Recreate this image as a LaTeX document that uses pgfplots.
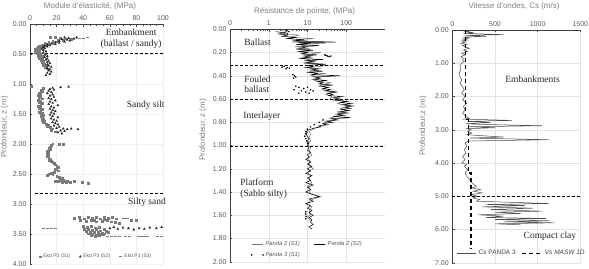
\documentclass[border=0pt]{standalone}
\usepackage{pgfplots}
\pgfplotsset{compat=1.18}
\usepackage{fontspec}
\setmainfont{Liberation Sans}
\newfontfamily\serifface{Liberation Serif}

\definecolor{tickgray}{HTML}{5A5A5A}
\definecolor{titlegray}{HTML}{808080}
\definecolor{gridgray}{HTML}{E2E2E2}
\definecolor{ptgray}{HTML}{7A7A7A}

\tikzset{
  note/.style={font=\serifface\fontsize{9.5}{10.5}\selectfont, text=black!85},
}
\pgfplotsset{
  panel/.style={
    scale only axis,
    clip=false,
    y dir=reverse,
    axis x line*=top,
    axis y line*=left,
    axis line style={black!75, line width=0.5pt},
    tick style={black!70, line width=0.4pt},
    major tick length=2.2pt,
    minor tick length=1.3pt,
    tick label style={font=\fontsize{7}{8}\selectfont, text=tickgray},
    /pgf/number format/assume math mode=true,
    yticklabel style={/pgf/number format/.cd, fixed, fixed zerofill, precision=2},
    grid style={gridgray, line width=0.4pt},
    legend cell align=left,
  },
  zone/.style={black, dashed, line width=0.8pt, dash pattern=on 3pt off 2pt},
}

\begin{document}
\begin{tikzpicture}
\useasboundingbox (0,0) rectangle (589pt,268pt);

% ---------------- Module d'elasticite ----------------
\begin{axis}[panel,
  at={(30pt,3.7pt)}, anchor=south west,
  width=133pt, height=240pt,
  xmin=0, xmax=100, ymin=0, ymax=4,
  xtick={0,20,40,60,80,100},
  ytick={0,0.5,1,1.5,2,2.5,3,3.5,4},
  minor x tick num=3, minor y tick num=4,
  xticklabel style={/pgf/number format/.cd, fixed, precision=0},
  grid=major, grid style={black!6},
  legend style={at={(0.5,0.032)}, anchor=center, draw=none, fill=none,
    font=\fontsize{5}{6}\selectfont, text=tickgray, legend columns=3,
    /tikz/every even column/.append style={column sep=7pt}},
  legend image code/.code={\draw[#1] plot coordinates {(0.15cm,0cm)};},
]
\addplot[only marks, mark=square*, mark size=0.9pt, color=ptgray] coordinates {
(15,0.21)(19,0.22)(23,0.23)(27,0.24)(31,0.25)(21,0.26)(25,0.27)(17,0.28)(20,0.29)(14,0.30)
(17,0.31)(11,0.32)(13,0.33)(9,0.34)(11,0.35)(7,0.36)(9,0.37)(6,0.38)(8,0.39)(5,0.40)
(7,0.41)(4,0.42)(6,0.43)(5,0.44)(7,0.45)(4,0.46)(6,0.47)(5,0.48)(8,0.49)(6,0.50)
(7,0.52)(9,0.53)(6,0.54)(8,0.56)(7,0.57)(9,0.58)(8,0.60)(10,0.62)(9,0.64)(11,0.66)
(10,0.68)(12,0.70)(11,0.72)(13,0.74)
(1,1.03)(10,1.07)(8,1.10)(9,1.12)(7,1.14)(8,1.16)(6,1.18)(8,1.20)(7,1.22)(9,1.24)
(6,1.26)(8,1.28)(7,1.30)(9,1.32)(8,1.34)(6,1.36)(8,1.38)(7,1.40)(9,1.42)(8,1.44)
(7,1.46)(9,1.48)(8,1.50)(10,1.52)(8,1.54)(9,1.56)(10,1.58)(9,1.60)(11,1.62)(10,1.64)
(12,1.66)(14,1.68)(13,1.70)(15,1.72)(17,1.74)(16,1.77)(19,1.79)
(17,1.99)(22,2.00)(25,2.00)(16,2.02)(15,2.04)(14,2.06)(15,2.08)(14,2.10)(13,2.12)(14,2.14)
(13,2.16)(14,2.18)(13,2.20)(14,2.22)(15,2.24)(14,2.26)(16,2.28)(17,2.30)(18,2.32)(19,2.34)
(20,2.36)(21,2.38)(20,2.40)(19,2.42)(21,2.44)(18,2.46)(16,2.48)(14,2.50)(13,2.52)(17,2.50)
(20,2.53)(22,2.55)(24,2.57)(25,2.59)(23,2.60)(26,2.61)(28,2.62)(24,2.63)(27,2.64)(30,2.63)
(33,2.62)(39,2.63)(44,2.65)(21,2.62)(19,2.61)
(33,3.23)(37,3.22)(41,3.24)(44,3.21)(47,3.23)(50,3.22)(53,3.24)(56,3.22)(59,3.23)(62,3.22)
(65,3.24)(38,3.27)(42,3.28)(46,3.27)(50,3.29)(54,3.28)(58,3.27)(61,3.29)(64,3.30)(67,3.31)
(48,3.26)(56,3.25)(76,3.26)(80,3.26)
(40,3.36)(43,3.38)(46,3.37)(49,3.39)(52,3.38)(41,3.41)(44,3.42)(47,3.43)(50,3.41)(53,3.44)
(56,3.42)(42,3.45)(45,3.46)(48,3.47)(51,3.46)(54,3.48)(57,3.45)(44,3.49)(47,3.50)(50,3.51)
(53,3.50)(56,3.49)(59,3.47)(46,3.52)(49,3.53)(52,3.52)
};
\addlegendentry{Ekd P3 (S1)}
\addplot[only marks, mark=triangle*, mark size=1.1pt, color=black!85] coordinates {
(26,0.22)(29,0.23)(33,0.24)(35,0.22)(24,0.25)(28,0.26)(30,0.27)(22,0.28)(26,0.29)(19,0.30)
(22,0.31)(16,0.32)(19,0.33)(13,0.34)(15,0.35)(11,0.36)(13,0.37)(10,0.38)(11,0.40)(9,0.41)
(10,0.43)(12,0.45)(10,0.47)(12,0.49)(11,0.51)(13,0.53)(11,0.55)(13,0.57)(12,0.59)(14,0.61)
(13,0.63)(15,0.65)(13,0.67)(14,0.69)(16,0.71)(13,0.73)(15,0.75)(14,0.77)(16,0.79)(13,0.81)
(15,0.83)(12,0.85)
(23,1.05)(29,1.04)(17,1.06)(15,1.08)(18,1.09)(14,1.11)(16,1.13)(13,1.15)(17,1.17)(15,1.19)
(18,1.21)(14,1.23)(16,1.25)(19,1.27)(15,1.29)(17,1.31)(14,1.33)(21,1.35)(16,1.37)(18,1.39)
(15,1.41)(17,1.43)(19,1.45)(16,1.47)(18,1.49)(15,1.51)(17,1.53)(21,1.55)(16,1.57)(18,1.59)
(20,1.61)(17,1.63)(19,1.65)(21,1.67)(18,1.69)(22,1.71)(20,1.73)(25,1.74)(28,1.75)(31,1.74)
(36,1.75)(23,1.77)(26,1.78)(21,1.80)(24,1.82)
(60,3.40)(63,3.38)(66,3.41)(70,3.39)(74,3.40)(78,3.42)(82,3.40)(86,3.41)(90,3.39)(95,3.40)
(99,3.38)
};
\addlegendentry{Ekd P3 (S2)}
\addplot[only marks, mark=-, mark size=1.6pt, color=ptgray, line width=0.8pt] coordinates {
(37,0.23)(40,0.23)(43,0.22)(10,3.40)(13,3.40)(16,3.40)(19,3.40)(70,3.24)(73,3.24)
(55,3.52)(58,3.53)(61,3.53)(64,3.54)(67,3.53)(72,3.54)(75,3.54)(82,3.54)(85,3.54)(88,3.54)
(96,3.54)(99,3.54)
};
\addlegendentry{Ekd P3 (S3)}
\addplot[zone, forget plot] coordinates {(0,0.48) (100,0.48)};
\addplot[zone, forget plot] coordinates {(4,2.82) (100,2.82)};
\node[note, align=center] at (axis cs:76,0.24) {Embankment\\(ballast / sandy)};
\node[note] at (axis cs:87,1.345) {Sandy silt};
\node[note] at (axis cs:88,2.96) {Silty sand};
\end{axis}

% ---------------- Resistance de pointe ----------------
\begin{axis}[panel,
  at={(230pt,6.3pt)}, anchor=south west,
  width=155pt, height=232.4pt,
  xmode=log, xmin=0.1, xmax=1000, ymin=0, ymax=2,
  xtick={0.1,1,10,100}, xticklabels={0,1,10,100},
  ytick={0,0.2,0.4,0.6,0.8,1,1.2,1.4,1.6,1.8,2},
  grid=major,
  legend style={at={(0.5,0.052)}, anchor=center, draw=none, fill=none,
    font=\itshape\fontsize{5.8}{7}\selectfont, text=tickgray, legend columns=2,
    /tikz/every even column/.append style={column sep=12pt},
    row sep=1pt},
  legend image code/.code={\draw[#1] plot coordinates {(0cm,0cm) (0.4cm,0cm)};},
]
\addplot[color=black!55, line width=0.5pt] coordinates {
(2,0.01)(3,0.02)(2.5,0.04)(6,0.05)(3.5,0.07)(15,0.08)(5,0.09)(10,0.10)(4,0.11)(28,0.12)
(6,0.13)(9,0.14)(5,0.15)(12,0.17)(7,0.19)(22,0.20)(8,0.22)(13,0.23)(7,0.25)(16,0.27)
(9,0.29)(35,0.31)(11,0.33)(17,0.35)(10,0.37)(28,0.38)(12,0.40)(20,0.42)(15,0.44)(40,0.46)
(20,0.48)(30,0.50)(24,0.52)(50,0.54)(30,0.56)(42,0.58)(38,0.60)(90,0.62)(60,0.64)(120,0.66)
(70,0.68)(100,0.70)(60,0.72)(80,0.74)(40,0.76)(55,0.78)(28,0.80)(35,0.82)(18,0.84)(14,0.86)
(11,0.88)(12,0.90)(11,0.93)(12,0.96)(10,0.99)(12,1.02)(11,1.05)(13,1.08)(10,1.11)(12,1.14)
(11,1.17)(14,1.20)(10,1.23)(12,1.26)(11,1.29)(13,1.32)(10,1.35)(12,1.38)(11,1.41)(22,1.44)
(12,1.47)(10,1.50)(13,1.53)(11,1.56)(12,1.59)(10,1.62)(12,1.65)
};
\addlegendentry{Panda 2 (S1)}
\addplot[color=black, line width=0.5pt] coordinates {
(1.5,0.02)(2.5,0.03)(1.8,0.04)(3,0.05)(2.2,0.06)(5,0.07)(3,0.08)(8,0.09)(4,0.10)(55,0.11)
(6,0.115)(12,0.12)(5,0.13)(20,0.14)(7,0.15)(9,0.16)(5,0.17)(14,0.18)(6,0.19)(10,0.20)
(7,0.21)(18,0.22)(8,0.23)(12,0.24)(6,0.25)(25,0.26)(9,0.27)(15,0.28)(8,0.29)(30,0.30)
(10,0.31)(14,0.32)(9,0.33)(20,0.34)(12,0.35)(25,0.36)(11,0.37)(18,0.38)(13,0.39)(70,0.40)
(15,0.41)(22,0.42)(14,0.43)(30,0.44)(18,0.45)(25,0.46)(20,0.47)(45,0.48)(22,0.49)(35,0.50)
(25,0.51)(40,0.52)(28,0.53)(60,0.54)(32,0.55)(45,0.56)(35,0.57)(80,0.58)(45,0.59)(70,0.60)
(50,0.61)(110,0.62)(70,0.63)(140,0.64)(80,0.65)(150,0.66)(90,0.67)(130,0.68)(75,0.69)(120,0.70)
(65,0.71)(110,0.72)(55,0.73)(90,0.74)(45,0.75)(130,0.76)(40,0.77)(60,0.78)(30,0.79)(45,0.80)
(25,0.81)(30,0.82)(20,0.83)(22,0.84)(15,0.85)(12,0.86)(10,0.87)(9,0.88)(10,0.89)(9,0.90)
(10,0.92)(11,0.94)(10,0.96)(11,0.98)(10,1.00)(11,1.02)(10,1.04)(12,1.06)(10,1.08)(11,1.10)
(9,1.12)(12,1.14)(10,1.16)(13,1.18)(10,1.20)(12,1.22)(9,1.24)(13,1.26)(10,1.28)(12,1.30)
(9,1.32)(14,1.34)(10,1.36)(12,1.38)(9,1.40)(13,1.42)(20,1.44)(11,1.46)(14,1.48)(9,1.50)
(12,1.52)(10,1.54)(13,1.56)(11,1.58)(14,1.60)(11,1.62)(13,1.64)(12,1.66)(14,1.68)(11,1.70)
(13,1.72)
};
\addlegendentry{Panda 2 (S2)}
\addplot[only marks, mark=*, mark size=0.55pt, color=black] coordinates {
(2.8,0.01)(3.3,0.02)(2.5,0.03)(3,0.04)
(28,0.22)(30,0.225)(33,0.23)(36,0.235)(40,0.23)
(2.5,0.32)(3,0.33)(3.4,0.335)(2.8,0.34)(2.2,0.325)
(4.2,0.39)(4.6,0.40)(5,0.41)(4.4,0.42)
(4.5,0.52)(5,0.49)(6,0.50)(8,0.51)(10,0.50)(12,0.52)(7,0.53)(9,0.54)(14,0.53)(6,0.55)(11,0.55)
(25,0.78)(20,0.80)(15,0.82)(12,0.84)(10,0.86)(9,0.88)(9,0.90)(8.5,0.92)(9,0.94)(9.5,0.96)(10,0.98)
(9,1.57)(9,1.59)(9.2,1.61)(9,1.63)
};
\addlegendentry{Panda 3 (S1)}
\addplot[zone, forget plot] coordinates {(0.1,0.31) (1000,0.31)};
\addplot[zone, forget plot] coordinates {(0.1,0.60) (1000,0.60)};
\addplot[zone, forget plot] coordinates {(0.1,1.01) (1000,1.01)};
\node[note, anchor=west] at (axis cs:0.19,0.115) {Ballast};
\node[note, anchor=west, align=left] at (axis cs:0.19,0.475) {Fouled\\ballast};
\node[note, anchor=west] at (axis cs:0.18,0.75) {Interlayer};
\node[note, anchor=west, align=left] at (axis cs:0.15,1.37) {Platform\\(Sablo silty)};
\end{axis}

% ---------------- Vitesse d'ondes ----------------
\begin{axis}[panel,
  at={(452.3pt,5.3pt)}, anchor=south west,
  width=128pt, height=232.7pt,
  xmin=0, xmax=1500, ymin=0, ymax=7,
  xtick={0,500,1000,1500},
  ytick={0,1,2,3,4,5,6,7},
  minor x tick num=4,
  xticklabel style={/pgf/number format/.cd, fixed, precision=0, 1000 sep={}},
  grid=major,
  legend style={at={(0.54,0.04)}, anchor=center, draw=none, fill=none,
    font=\fontsize{6.5}{7.5}\selectfont, text=black!75, legend columns=2,
    /tikz/every even column/.append style={column sep=4pt}},
  legend image code/.code={\draw[#1] plot coordinates {(0cm,0cm) (0.7cm,0cm)};},
]
\addplot[color=black!70, line width=0.5pt] coordinates {
(100,0.00)(200,0.03)(150,0.05)(250,0.08)(130,0.10)(600,0.14)(160,0.16)(400,0.19)(140,0.21)(200,0.24)
(120,0.27)(180,0.30)(110,0.33)(160,0.36)(100,0.40)(170,0.43)(120,0.47)(150,0.50)(200,0.55)(130,0.60)
(180,0.65)(110,0.70)(150,0.75)(100,0.80)(130,0.85)(120,0.90)(140,0.95)(110,1.00)(90,1.10)(100,1.20)
(80,1.30)(90,1.40)(110,1.50)(90,1.60)(120,1.70)(140,1.80)(110,1.90)(150,2.00)(120,2.10)(170,2.20)
(130,2.30)(150,2.40)(120,2.50)(160,2.60)(200,2.65)(140,2.68)(700,2.72)(180,2.75)(450,2.78)(160,2.82)
(350,2.84)(1050,2.88)(200,2.91)(500,2.94)(170,2.97)(220,3.00)(180,3.05)(230,3.10)(170,3.15)(600,3.22)
(200,3.25)(1130,3.30)(180,3.34)(150,3.40)(170,3.50)(140,3.60)(160,3.70)(120,3.80)(150,3.90)(110,4.00)
(170,4.05)(140,4.10)(180,4.20)(150,4.30)(170,4.40)(200,4.50)(230,4.60)(280,4.70)(230,4.75)(330,4.80)
(250,4.85)(350,4.90)(220,4.95)(300,5.00)(240,5.05)(320,5.10)(280,5.15)(1130,5.22)(400,5.25)(850,5.28)
(350,5.32)(950,5.36)(450,5.40)(1050,5.45)(500,5.48)(800,5.52)(300,5.56)(600,5.60)(400,5.64)(1100,5.67)
(500,5.70)(1150,5.74)(600,5.77)(1200,5.80)(500,5.83)(800,5.86)
};
\addlegendentry{Cs PANDA 3}
\addplot[black, line width=1.2pt, dash pattern=on 4pt off 3pt] coordinates {
(150,0)(150,2.7)(190,2.7)(190,4.3)(220,4.3)(220,6.6)
};
\addlegendentry{\textit{Vs MASW 1D}}
\addplot[zone, forget plot] coordinates {(0,5.0) (1500,5.0)};
\node[note] at (axis cs:940,1.485) {Embankments};
\node[note] at (axis cs:1144,6.2) {Compact clay};
\end{axis}

% titles and depth labels
\node[font=\fontsize{8}{9}\selectfont, text=titlegray] at (90pt,261.3pt) {Module d'élasticité, (MPa)};
\node[font=\fontsize{8}{9}\selectfont, text=titlegray] at (304.5pt,257pt) {Résistance de pointe, (MPa)};
\node[font=\fontsize{8}{9}\selectfont, text=titlegray] at (514pt,262pt) {Vitesse d'ondes, Cs (m/s)};
\node[rotate=90, font=\fontsize{8}{9}\selectfont, text=titlegray] at (4.5pt,141pt) {Profondeur, z (m)};
\node[rotate=90, font=\fontsize{8}{9}\selectfont, text=titlegray] at (203pt,138pt) {Profondeur, z (m)};
\node[rotate=90, font=\fontsize{8}{9}\selectfont, text=titlegray] at (423pt,142pt) {Profondeur,z (m)};
\end{tikzpicture}
\end{document}
